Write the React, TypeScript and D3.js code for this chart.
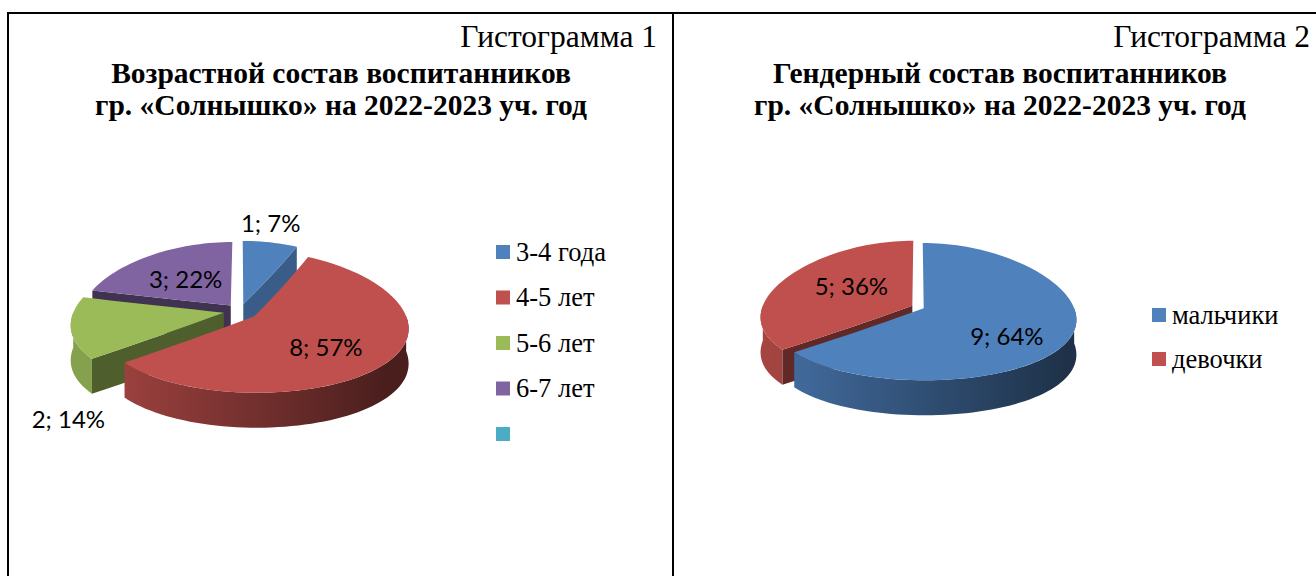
import React from 'react';
import * as d3 from 'd3';

// ---------- data ----------
const ageLegend = ['3-4 года', '4-5 лет', '5-6 лет', '6-7 лет', ''];
const ageValues = [1, 8, 2, 3];
const agePercents = ['7%', '57%', '14%', '22%'];
const ageColors = ['#4F81BD', '#C0504D', '#9BBB59', '#8064A2', '#4BACC6'];

const genderCategories = ['мальчики', 'девочки'];
const genderValues = [9, 5];
const genderPercents = ['64%', '36%'];
const genderColors = ['#4F81BD', '#C0504D'];

const title1 = ['Гистограмма 1', 'Возрастной состав воспитанников', 'гр. «Солнышко» на 2022-2023 уч. год'];
const title2 = ['Гистограмма 2', 'Гендерный состав воспитанников', 'гр. «Солнышко» на 2022-2023 уч. год'];

const W = 1316;
const H = 576;

const mul = (c: string, f: number) => {
  const r = d3.rgb(c);
  return d3.rgb(r.r * f, r.g * f, r.b * f).formatHex();
};

type PieProps = {
  id: string;
  cx: number; cy: number; rx: number; ry: number; depth: number;
  kx: number; ky: number;
  values: number[]; percents: string[]; colors: string[];
  explode: number[]; labelShift: [number, number][];
};

function Pie3D(p: PieProps) {
  const arcs = d3.pie<number>().sort(null).startAngle(0).endAngle(2 * Math.PI)(p.values);
  // pseudo-perspective projection of a point of the unit disc (X right, Z away)
  const proj = (X: number, Z: number, dz = 0): [number, number] => [
    p.cx + p.rx * X * (1 - p.kx * Z),
    p.cy - p.ry * Z * (1 - p.ky * Z) + dz,
  ];
  const items = arcs.map((a, i) => {
    const mid = (a.startAngle + a.endAngle) / 2;
    const e = p.explode[i];
    return { a, i, mid, ex: e * Math.sin(mid), ez: e * Math.cos(mid) };
  });
  const order = [...items].sort((u, v) => Math.cos(v.mid) - Math.cos(u.mid));
  const line = d3.line();
  const x0 = p.cx - p.rx;
  const x1 = p.cx + p.rx;

  return (
    <g>
      <defs>
        {items.map(({ i }) => (
          <linearGradient key={i} id={`${p.id}-side-${i}`} gradientUnits="userSpaceOnUse" x1={x0} x2={x1} y1={0} y2={0}>
            <stop offset="0%" stopColor={mul(p.colors[i], 0.86)} />
            <stop offset="100%" stopColor={mul(p.colors[i], 0.38)} />
          </linearGradient>
        ))}
      </defs>
      {order.map(({ a, i, ex, ez }) => {
        const rim = (ang: number, t = 1, dz = 0) => proj(ex + t * Math.sin(ang), ez + t * Math.cos(ang), dz);
        const a0 = a.startAngle;
        const a1 = a.endAngle;
        const radial = (ang: number, dz = 0, rev = false) => {
          const ts = d3.range(0, 1.0001, 0.1);
          const pts = ts.map((t) => rim(ang, t, dz));
          return rev ? pts.reverse() : pts;
        };
        const arcPts = (b0: number, b1: number, dz = 0) => {
          const n = Math.max(2, Math.ceil(((b1 - b0) / (2 * Math.PI)) * 160));
          return d3.range(n + 1).map((k) => rim(b0 + ((b1 - b0) * k) / n, 1, dz));
        };
        const top = line([...radial(a0), ...arcPts(a0, a1), ...radial(a1, 0, true)]) + 'Z';
        const walls: { d: string; fill: string }[] = [];
        if (Math.sin(a0) < -1e-6) {
          walls.push({
            d: line([...radial(a0), ...radial(a0, p.depth, true)]) + 'Z',
            fill: mul(p.colors[i], 0.5),
          });
        }
        if (Math.sin(a1) > 1e-6) {
          walls.push({
            d: line([...radial(a1), ...radial(a1, p.depth, true)]) + 'Z',
            fill: mul(p.colors[i], 0.72),
          });
        }
        const b0 = Math.max(a0, Math.PI / 2);
        const b1 = Math.min(a1, (3 * Math.PI) / 2);
        let side: string | null = null;
        if (b1 > b0) {
          side = line([...arcPts(b0, b1), ...arcPts(b0, b1, p.depth).reverse()]) + 'Z';
        }
        return (
          <g key={i}>
            {walls.map((w, k) => <path key={k} d={w.d} fill={w.fill} />)}
            {side && <path d={side} fill={`url(#${p.id}-side-${i})`} />}
            <path d={top} fill={p.colors[i]} />
          </g>
        );
      })}
      {items.map(({ i, mid, ex, ez }) => {
        const [lx, ly] = proj(ex + 0.6 * Math.sin(mid), ez + 0.6 * Math.cos(mid));
        return (
          <text key={`l${i}`} x={lx + p.labelShift[i][0]} y={ly + p.labelShift[i][1]}
            textAnchor="middle" dominantBaseline="central"
            fontFamily="Lato, 'Noto Sans', sans-serif" fontSize={24} fill="#000">
            {`${p.values[i]}; ${p.percents[i]}`}
          </text>
        );
      })}
    </g>
  );
}

function Legend({ x, y, step, labels, colors }: { x: number; y: number; step: number; labels: string[]; colors: string[] }) {
  return (
    <g>
      {labels.map((l, i) => (
        <g key={i} transform={`translate(${x},${y + i * step})`}>
          <rect x={0} y={-7} width={14} height={14} fill={colors[i]} />
          <text x={20} y={0} dy="0.33em" fontFamily="'Liberation Serif', 'Times New Roman', serif" fontSize={26.5} fill="#000">{l}</text>
        </g>
      ))}
    </g>
  );
}

function Titles({ rightX, centerX, lines }: { rightX: number; centerX: number; lines: string[] }) {
  const ff = "'Liberation Serif', 'Times New Roman', serif";
  return (
    <g fill="#000" fontFamily={ff}>
      <text x={rightX} y={47} textAnchor="end" fontSize={31.5}>{lines[0]}</text>
      <text x={centerX} y={83} textAnchor="middle" fontSize={29.5} fontWeight="bold">{lines[1]}</text>
      <text x={centerX} y={115} textAnchor="middle" fontSize={29.5} fontWeight="bold">{lines[2]}</text>
    </g>
  );
}

export default function App() {
  return (
    <svg width={W} height={H} viewBox={`0 0 ${W} ${H}`}
      style={{ position: 'absolute', left: 0, top: 0, background: '#fff' }}>
      <rect x={0} y={0} width={W} height={H} fill="#fff" />
      {/* table borders */}
      <line x1={7} x2={W} y1={13} y2={13} stroke="#000" strokeWidth={2} />
      <line x1={8} x2={8} y1={12} y2={H} stroke="#000" strokeWidth={2} />
      <line x1={673} x2={673} y1={12} y2={H} stroke="#000" strokeWidth={2} />

      <Titles rightX={657} centerX={341} lines={title1} />
      <Titles rightX={1310} centerX={1000} lines={title2} />

      <Pie3D id="age" cx={240} cy={311} rx={150} ry={70} depth={35} kx={0.17} ky={0.08}
        values={ageValues} percents={agePercents} colors={ageColors}
        explode={[0.1, 0.12, 0.11, 0.1]}
        labelShift={[[10, -43], [-5, 3], [-65, 96], [5, 4]]} />
      <Legend x={496} y={252} step={45.5} labels={ageLegend} colors={ageColors} />

      <Pie3D id="gender" cx={918} cy={307} rx={150} ry={68.5} depth={35} kx={0.17} ky={0.05}
        values={genderValues} percents={genderPercents} colors={genderColors}
        explode={[0.042, 0.042]}
        labelShift={[[-2, 9], [16, -3]]} />
      <Legend x={1152} y={315} step={44} labels={genderCategories} colors={genderColors} />
    </svg>
  );
}
